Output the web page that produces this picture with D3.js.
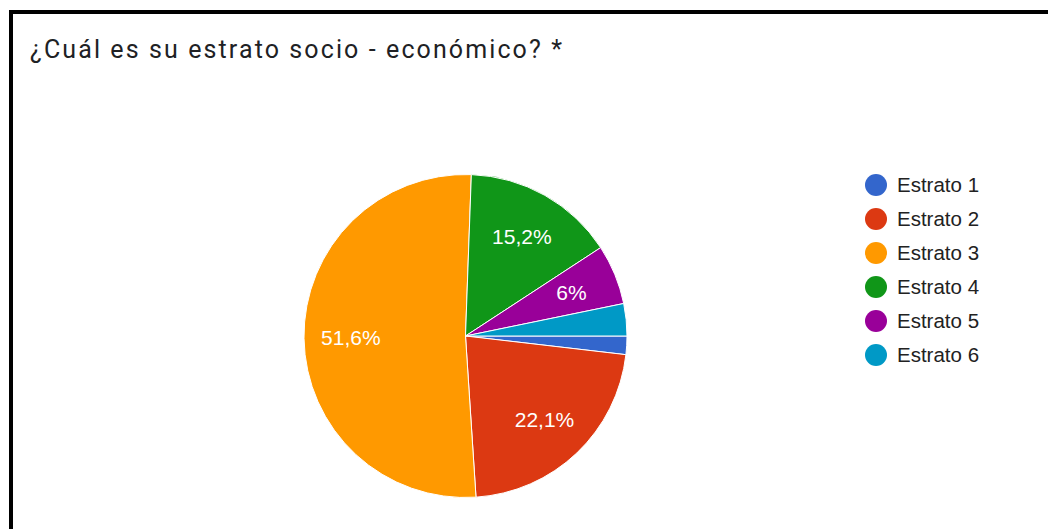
<!DOCTYPE html>
<html>
<head>
<meta charset="utf-8">
<script src="https://cdn.jsdelivr.net/npm/d3@7"></script>
<style>
  html, body { margin: 0; padding: 0; background: #fff; }
  svg { display: block; }
</style>
</head>
<body>
<svg id="chart" width="1048" height="529"></svg>
<script>
// Survey answers: socio-economic stratum
const categories = ["Estrato 1", "Estrato 2", "Estrato 3", "Estrato 4", "Estrato 5", "Estrato 6"];
const responses = [4, 48, 112, 33, 13, 7];
const sliceLabels = ["", "22,1%", "51,6%", "15,2%", "6%", ""];
const colors = ["#3366cc", "#dc3912", "#ff9900", "#109618", "#990099", "#0099c6"];
const title = "¿Cuál es su estrato socio - económico? *";

const svg = d3.select("#chart");

// frame (top and left edges of the card)
svg.append("rect").attr("x", 9).attr("y", 10).attr("width", 1048).attr("height", 4).attr("fill", "#000");
svg.append("rect").attr("x", 9).attr("y", 10).attr("width", 4).attr("height", 529).attr("fill", "#000");

svg.append("text")
  .attr("x", 30).attr("y", 58)
  .attr("font-family", "Roboto, Arial, sans-serif")
  .attr("font-size", 25)
  .attr("letter-spacing", 2.1)
  .attr("fill", "#202124")
  .text(title);

const cx = 465.5, cy = 336, r = 161.5;

const data = categories.map((c, i) => ({ name: c, value: responses[i], label: sliceLabels[i], color: colors[i] }));

const pie = d3.pie()
  .value(d => d.value)
  .sort(null)
  .startAngle(Math.PI / 2)
  .endAngle(Math.PI / 2 + 2 * Math.PI);

const arc = d3.arc().innerRadius(0).outerRadius(r);
const labelArc = d3.arc().innerRadius(r * 0.71).outerRadius(r * 0.71);

const g = svg.append("g").attr("transform", `translate(${cx},${cy})`);
const arcs = pie(data);

g.selectAll("path.slice")
  .data(arcs)
  .join("path")
  .attr("class", "slice")
  .attr("d", arc)
  .attr("fill", d => d.data.color)
  .attr("stroke", "#fff")
  .attr("stroke-width", 1);

g.selectAll("text.pct")
  .data(arcs.filter(d => d.data.label))
  .join("text")
  .attr("class", "pct")
  .attr("transform", d => `translate(${labelArc.centroid(d)})`)
  .attr("text-anchor", "middle")
  .attr("dy", "0.36em")
  .attr("font-family", "Arial, 'Liberation Sans', sans-serif")
  .attr("font-size", 21)
  .attr("fill", "#fff")
  .text(d => d.data.label);

// legend
const legendY = d3.scalePoint().domain(categories).range([185, 355]);
const legend = svg.append("g");
const items = legend.selectAll("g.item")
  .data(data)
  .join("g")
  .attr("class", "item")
  .attr("transform", d => `translate(876,${legendY(d.name)})`);
items.append("circle").attr("r", 11).attr("fill", d => d.color);
items.append("text")
  .attr("x", 21)
  .attr("dy", "0.36em")
  .attr("font-family", "Arial, 'Liberation Sans', sans-serif")
  .attr("font-size", 20.5)
  .attr("fill", "#222")
  .text(d => d.name);
</script>
</body>
</html>
